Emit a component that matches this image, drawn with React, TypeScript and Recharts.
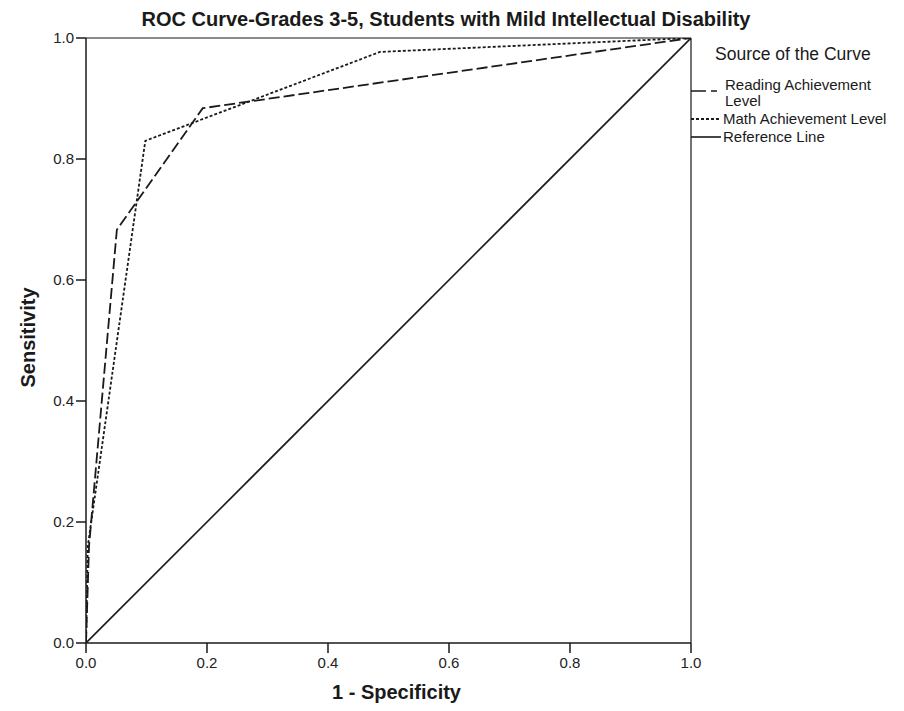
import React from 'react';
import { LineChart, Line, XAxis, YAxis, ReferenceLine, Label } from 'recharts';

// ROC coordinates (1 - specificity, sensitivity) for each test variable
const READING_FPR = [0, 0.005, 0.051, 0.193, 1];
const READING_TPR = [0, 0.16, 0.683, 0.884, 1];
const MATH_FPR = [0, 0.003, 0.098, 0.486, 1];
const MATH_TPR = [0, 0.16, 0.83, 0.977, 1];
const REF_FPR = [0, 1];
const REF_TPR = [0, 1];

const AXIS_TICKS = [0, 0.2, 0.4, 0.6, 0.8, 1.0];

const TITLE = 'ROC Curve-Grades 3-5, Students with Mild Intellectual Disability';
const X_TITLE = '1 - Specificity';
const Y_TITLE = 'Sensitivity';
const LEGEND_TITLE = 'Source of the Curve';
const LEGEND_ITEMS = [
  { lines: ['Reading Achievement', 'Level'], dash: '15 5 6 100' },
  { lines: ['Math Achievement Level'], dash: '3 2' },
  { lines: ['Reference Line'], dash: undefined as string | undefined },
];

const toPoints = (xs: number[], ys: number[]) => xs.map((x, i) => ({ x, y: ys[i] }));

const readingData = toPoints(READING_FPR, READING_TPR);
const mathData = toPoints(MATH_FPR, MATH_TPR);
const refData = toPoints(REF_FPR, REF_TPR);

const FONT = '"Liberation Sans", Arial, sans-serif';
const INK = '#1a1a1a';

const W = 896;
const H = 703;

const XTitle = (props: any) => {
  const vb = props.viewBox || {};
  return (
    <text
      x={vb.x + vb.width / 2 + 8}
      y={vb.y + vb.height + 16}
      textAnchor="middle"
      fontFamily={FONT}
      fontWeight="bold"
      fontSize={20}
      fill={INK}
    >
      {X_TITLE}
    </text>
  );
};

const YTitle = (props: any) => {
  const vb = props.viewBox || {};
  const cx = 20;
  const cy = vb.y + vb.height / 2 - 3;
  return (
    <text
      transform={`translate(${cx},${cy}) rotate(-90)`}
      textAnchor="middle"
      dy="0.35em"
      fontFamily={FONT}
      fontWeight="bold"
      fontSize={20}
      fill={INK}
    >
      {Y_TITLE}
    </text>
  );
};

export default function App() {
  const tickStyle = { fill: '#222', fontSize: 15, fontFamily: FONT };
  const itemFont = { fontFamily: FONT, fontSize: 15, fill: INK };
  return (
    <div style={{ position: 'relative', width: W, height: H }}>
      <LineChart width={W} height={H} margin={{ top: 30, right: 213, left: 0, bottom: 28 }}>
        <XAxis
          type="number"
          dataKey="x"
          domain={[0, 1]}
          ticks={AXIS_TICKS}
          tickFormatter={(v: number) => v.toFixed(1)}
          allowDataOverflow
          height={40}
          tickSize={10}
          tickMargin={4}
          tick={tickStyle}
          axisLine={{ stroke: INK, strokeWidth: 1.5 }}
          tickLine={{ stroke: INK, strokeWidth: 1.5 }}
        >
          <Label content={XTitle} />
        </XAxis>
        <YAxis
          type="number"
          dataKey="y"
          domain={[0, 1]}
          ticks={AXIS_TICKS}
          tickFormatter={(v: number) => v.toFixed(1)}
          allowDataOverflow
          width={78}
          tickSize={10}
          tickMargin={2}
          tick={tickStyle}
          axisLine={{ stroke: INK, strokeWidth: 1.5 }}
          tickLine={{ stroke: INK, strokeWidth: 1.5 }}
        >
          <Label content={YTitle} />
        </YAxis>
        <ReferenceLine y={1} stroke="#8a8a8a" strokeWidth={2} />
        <ReferenceLine x={1} stroke="#444" strokeWidth={1.5} />
        <Line
          data={refData}
          dataKey="y"
          type="linear"
          stroke={INK}
          strokeWidth={1.6}
          dot={false}
          isAnimationActive={false}
        />
        <Line
          data={readingData}
          dataKey="y"
          type="linear"
          stroke={INK}
          strokeWidth={1.8}
          strokeDasharray="11 4"
          dot={false}
          isAnimationActive={false}
        />
        <Line
          data={mathData}
          dataKey="y"
          type="linear"
          stroke={INK}
          strokeWidth={1.8}
          strokeDasharray="3 2"
          dot={false}
          isAnimationActive={false}
        />
      </LineChart>
      <svg
        width={W}
        height={H}
        style={{ position: 'absolute', left: 0, top: 0, pointerEvents: 'none' }}
      >
        <text
          x={438}
          y={18}
          textAnchor="middle"
          fontFamily={FONT}
          fontWeight="bold"
          fontSize={20}
          fill={INK}
        >
          {TITLE}
        </text>
        <text x={707} y={52} fontFamily={FONT} fontSize={17.5} fill={INK}>
          {LEGEND_TITLE}
        </text>
        {/* Reading */}
        <line x1={683} x2={712} y1={83} y2={83} stroke={INK} strokeWidth={1.6} strokeDasharray={LEGEND_ITEMS[0].dash} />
        <text x={717} y={82} {...itemFont}>{LEGEND_ITEMS[0].lines[0]}</text>
        <text x={717} y={98} {...itemFont}>{LEGEND_ITEMS[0].lines[1]}</text>
        {/* Math */}
        <line x1={683} x2={713} y1={111} y2={111} stroke={INK} strokeWidth={1.8} strokeDasharray={LEGEND_ITEMS[1].dash} />
        <text x={715} y={116} {...itemFont}>{LEGEND_ITEMS[1].lines[0]}</text>
        {/* Reference */}
        <line x1={683} x2={713} y1={129} y2={129} stroke={INK} strokeWidth={1.6} />
        <text x={715} y={134} {...itemFont}>{LEGEND_ITEMS[2].lines[0]}</text>
      </svg>
    </div>
  );
}
